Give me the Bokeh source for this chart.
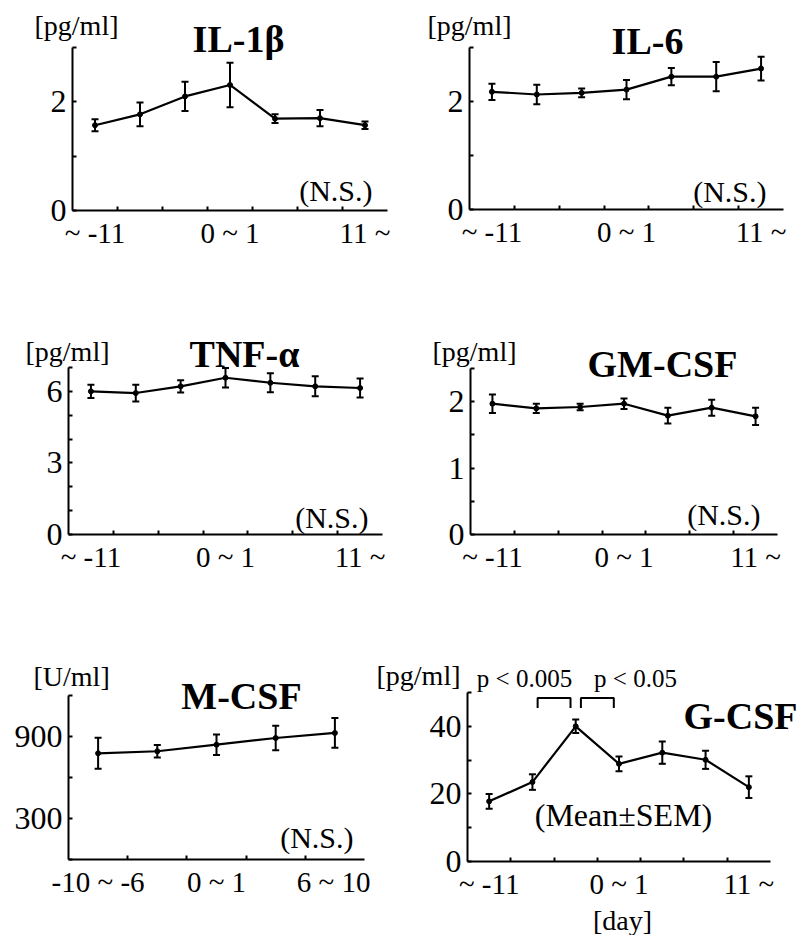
import numpy as np
from bokeh.plotting import figure
from bokeh.models import FixedTicker, Label, Range1d, LinearAxis
from bokeh.layouts import column, row
from bokeh.embed import file_html
from bokeh.resources import INLINE

FONT = "Liberation Serif"

# ---------------- data ----------------
period_labels = ["~ -11", "0 ~ 1", "11 ~"]
mcsf_period_labels = ["-10 ~ -6", "0 ~ 1", "6 ~ 10"]

il1b_mean = [1.57, 1.77, 2.10, 2.31, 1.69, 1.70, 1.57]
il1b_sem = [0.11, 0.22, 0.27, 0.41, 0.08, 0.15, 0.07]

il6_mean = [2.18, 2.13, 2.16, 2.22, 2.46, 2.46, 2.61]
il6_sem = [0.15, 0.18, 0.08, 0.18, 0.16, 0.27, 0.22]

tnfa_mean = [6.00, 5.93, 6.21, 6.57, 6.36, 6.21, 6.14]
tnfa_sem = [0.28, 0.35, 0.26, 0.41, 0.40, 0.42, 0.40]

gmcsf_mean = [1.97, 1.90, 1.92, 1.97, 1.79, 1.91, 1.78]
gmcsf_sem = [0.14, 0.07, 0.05, 0.08, 0.12, 0.12, 0.13]

mcsf_mean = [777, 792, 840, 889, 926]
mcsf_sem = [113, 45, 75, 89, 109]

gcsf_mean = [17.8, 23.5, 40.0, 28.9, 32.2, 30.1, 22.0]
gcsf_sem = [2.2, 2.3, 2.0, 2.2, 3.3, 2.7, 3.2]

# significance brackets for G-CSF: (from index, to index, label)
gcsf_sig = [(1, 2, "p < 0.005"), (2, 3, "p < 0.05")]


def make_panel(mean, sem, xlabels, ymax, ymajor, yminor,
               origin, size, frame, texts):
    """origin/size: canvas placement on the page; frame: axis box (l, t, r, b)."""
    ox, oy = origin
    w, h = size
    fl, ft, fr, fb = frame
    n = len(mean)
    # ranges chosen so that the axes (at 0) land on the axis box
    xs = (ox - fl) / (fr - fl) * n
    xe = (ox + w - fl) / (fr - fl) * n
    ys = (fb - (oy + h)) / (fb - ft) * ymax
    ye = (fb - oy) / (fb - ft) * ymax
    p = figure(width=w, height=h,
               x_range=Range1d(xs, xe), y_range=Range1d(ys, ye),
               x_axis_type=None, y_axis_type=None,
               output_backend="svg", toolbar_location=None,
               min_border=0, min_border_left=0, min_border_right=0,
               min_border_top=0, min_border_bottom=0)
    p.outline_line_color = None
    p.background_fill_color = "white"
    p.border_fill_color = "white"

    label_pos = [0.5, (n - 1) / 2 + 0.5, n - 0.5]
    xa = LinearAxis(fixed_location=0, bounds=(0, n))
    xa.ticker = FixedTicker(ticks=label_pos, minor_ticks=list(range(1, n)))
    xa.major_label_overrides = {pos: lab for pos, lab in zip(label_pos, xlabels)}
    xa.major_tick_in = 0
    xa.major_tick_out = 0
    xa.minor_tick_in = 4
    xa.minor_tick_out = 0
    xa.major_label_standoff = 6
    xa.major_label_text_font_size = "29px"

    ya = LinearAxis(fixed_location=0, bounds=(0, ymax))
    ya.ticker = FixedTicker(ticks=ymajor, minor_ticks=yminor)
    ya.major_tick_in = 4
    ya.major_tick_out = 0
    ya.minor_tick_in = 4
    ya.minor_tick_out = 0
    ya.major_label_standoff = 6
    ya.major_label_text_font_size = "32px"

    for ax in (xa, ya):
        ax.axis_line_width = 2
        ax.axis_line_color = "black"
        ax.major_tick_line_width = 2
        ax.minor_tick_line_width = 2
        ax.major_tick_line_color = "black"
        ax.minor_tick_line_color = "black"
        ax.major_label_text_font = FONT
        ax.major_label_text_color = "black"
    p.add_layout(xa, "below")
    p.add_layout(ya, "left")

    x = np.arange(n) + 0.5
    m = np.array(mean, dtype=float)
    s = np.array(sem, dtype=float)
    p.segment(x, m - s, x, m + s, line_width=2, color="black")
    p.scatter(x, m + s, marker="dash", size=7, line_width=2, color="black")
    p.scatter(x, m - s, marker="dash", size=7, line_width=2, color="black")
    p.line(x, m, line_width=2.2, color="black")
    p.scatter(x, m, marker="circle", size=5, color="black")

    def px2data(px, py):
        dx = (px - fl) / (fr - fl) * n
        dy = (fb - py) / (fb - ft) * ymax
        return dx, dy

    for t in texts:
        txt, px, py, align, fsize, style = t
        fs = float(fsize.replace("px", ""))
        dx, dy = px2data(px, py - 0.35 * fs)
        p.add_layout(Label(x=dx, y=dy, text=txt, text_font=FONT,
                           text_font_size=fsize, text_font_style=style,
                           text_align=align, text_baseline="alphabetic",
                           text_color="black"))
    return p


p1 = make_panel(il1b_mean, il1b_sem, period_labels, 3, [0, 2], [1, 3],
                (0, 0), (400, 300), (72, 47, 387, 210),
                [("[pg/ml]", 34, 35, "left", "28px", "normal"),
                 ("IL-1β", 238, 52, "center", "38px", "bold"),
                 ("(N.S.)", 372, 200, "right", "30px", "normal")])

p2 = make_panel(il6_mean, il6_sem, period_labels, 3, [0, 2], [1, 3],
                (400, 0), (400, 300), (469, 47, 783, 209),
                [("[pg/ml]", 427, 35, "left", "28px", "normal"),
                 ("IL-6", 647, 54, "center", "38px", "bold"),
                 ("(N.S.)", 766, 201, "right", "30px", "normal")])

p3 = make_panel(tnfa_mean, tnfa_sem, period_labels, 7, [0, 3, 6], [1, 2, 4, 5, 7],
                (0, 300), (400, 300), (68, 367, 382, 534),
                [("[pg/ml]", 25, 361, "left", "28px", "normal"),
                 ("TNF-α", 244, 367, "center", "38px", "bold"),
                 ("(N.S.)", 368, 527, "right", "30px", "normal")])

p4 = make_panel(gmcsf_mean, gmcsf_sem, period_labels, 2.5, [0, 1, 2], [0.5, 1.5, 2.5],
                (400, 300), (400, 300), (470, 368, 777, 534),
                [("[pg/ml]", 432, 361, "left", "28px", "normal"),
                 ("GM-CSF", 662, 377, "center", "38px", "bold"),
                 ("(N.S.)", 760, 524, "right", "30px", "normal")])

p5 = make_panel(mcsf_mean, mcsf_sem, mcsf_period_labels, 1200, [300, 900], [0, 600, 1200],
                (0, 600), (370, 335), (68, 695, 364, 859),
                [("[U/ml]", 33, 686, "left", "28px", "normal"),
                 ("M-CSF", 241, 709, "center", "38px", "bold"),
                 ("(N.S.)", 353, 847, "right", "30px", "normal")])

p6 = make_panel(gcsf_mean, gcsf_sem, period_labels, 50, [0, 20, 40], [10, 30, 50],
                (370, 600), (430, 335), (467, 692, 770, 861),
                [("[pg/ml]", 376, 685, "left", "28px", "normal"),
                 ("p < 0.005", 524, 687, "center", "25px", "normal"),
                 ("p < 0.05", 635, 687, "center", "25px", "normal"),
                 ("G-CSF", 740, 729, "center", "38px", "bold"),
                 ("(Mean±SEM)", 623, 826, "center", "32px", "normal"),
                 ("[day]", 622, 930, "center", "28px", "normal")])

# significance brackets
bx, by = [], []
for a, b, _ in gcsf_sig:
    xa_ = a + 0.5 + 0.12
    xb_ = b + 0.5 - 0.12
    bx.append([xa_, xa_, xb_, xb_])
    by.append([45.4, 48.4, 48.4, 45.4])
p6.multi_line(bx, by, line_width=2, color="black")

layout = column(row(p1, p2), row(p3, p4), row(p5, p6))

open("out.html", "w").write(file_html(layout, INLINE))
